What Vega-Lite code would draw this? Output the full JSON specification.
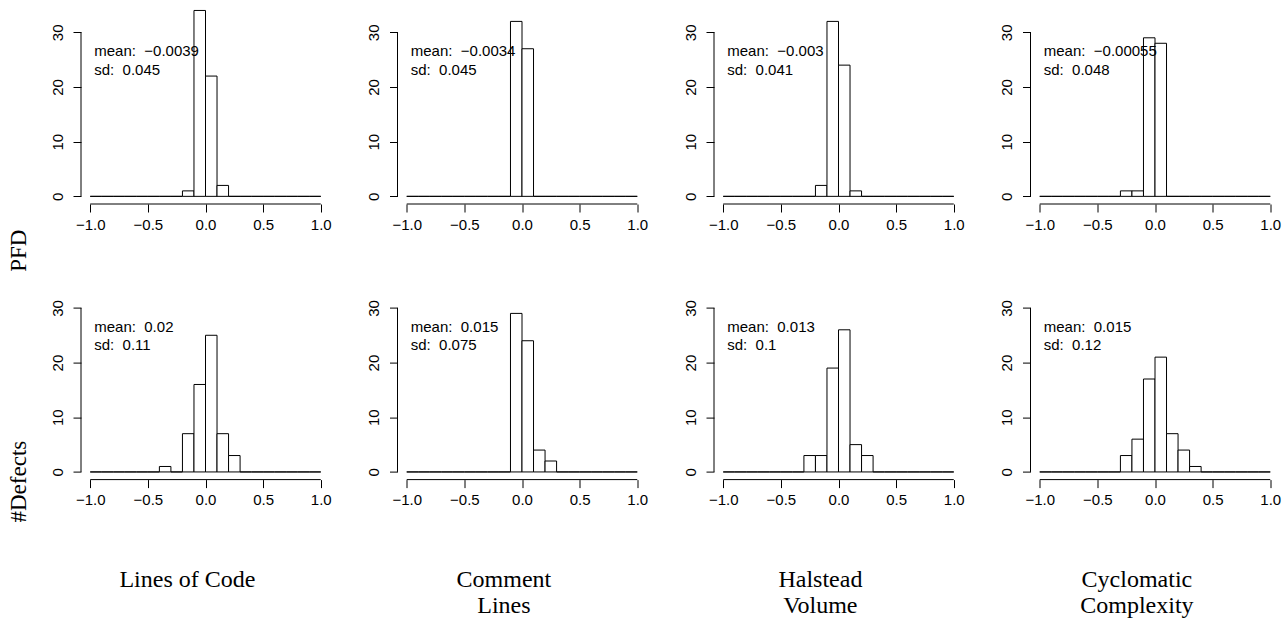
{
"$schema": "https://vega.github.io/schema/vega-lite/v6.json",
"background": "white",
"padding": {"left": 7, "top": 5, "right": 5, "bottom": 5},
"data": {"values": [
{"k":"b","t":"PFD","m":"Lines of Code","lo":-1,"hi":-0.9,"n":0},
{"k":"b","t":"PFD","m":"Lines of Code","lo":-0.9,"hi":-0.8,"n":0},
{"k":"b","t":"PFD","m":"Lines of Code","lo":-0.8,"hi":-0.7,"n":0},
{"k":"b","t":"PFD","m":"Lines of Code","lo":-0.7,"hi":-0.6,"n":0},
{"k":"b","t":"PFD","m":"Lines of Code","lo":-0.6,"hi":-0.5,"n":0},
{"k":"b","t":"PFD","m":"Lines of Code","lo":-0.5,"hi":-0.4,"n":0},
{"k":"b","t":"PFD","m":"Lines of Code","lo":-0.4,"hi":-0.3,"n":0},
{"k":"b","t":"PFD","m":"Lines of Code","lo":-0.3,"hi":-0.2,"n":0},
{"k":"b","t":"PFD","m":"Lines of Code","lo":-0.2,"hi":-0.1,"n":1},
{"k":"b","t":"PFD","m":"Lines of Code","lo":-0.1,"hi":0,"n":34},
{"k":"b","t":"PFD","m":"Lines of Code","lo":0,"hi":0.1,"n":22},
{"k":"b","t":"PFD","m":"Lines of Code","lo":0.1,"hi":0.2,"n":2},
{"k":"b","t":"PFD","m":"Lines of Code","lo":0.2,"hi":0.3,"n":0},
{"k":"b","t":"PFD","m":"Lines of Code","lo":0.3,"hi":0.4,"n":0},
{"k":"b","t":"PFD","m":"Lines of Code","lo":0.4,"hi":0.5,"n":0},
{"k":"b","t":"PFD","m":"Lines of Code","lo":0.5,"hi":0.6,"n":0},
{"k":"b","t":"PFD","m":"Lines of Code","lo":0.6,"hi":0.7,"n":0},
{"k":"b","t":"PFD","m":"Lines of Code","lo":0.7,"hi":0.8,"n":0},
{"k":"b","t":"PFD","m":"Lines of Code","lo":0.8,"hi":0.9,"n":0},
{"k":"b","t":"PFD","m":"Lines of Code","lo":0.9,"hi":1,"n":0},
{"k":"b","t":"PFD","m":"Comment Lines","lo":-1,"hi":-0.9,"n":0},
{"k":"b","t":"PFD","m":"Comment Lines","lo":-0.9,"hi":-0.8,"n":0},
{"k":"b","t":"PFD","m":"Comment Lines","lo":-0.8,"hi":-0.7,"n":0},
{"k":"b","t":"PFD","m":"Comment Lines","lo":-0.7,"hi":-0.6,"n":0},
{"k":"b","t":"PFD","m":"Comment Lines","lo":-0.6,"hi":-0.5,"n":0},
{"k":"b","t":"PFD","m":"Comment Lines","lo":-0.5,"hi":-0.4,"n":0},
{"k":"b","t":"PFD","m":"Comment Lines","lo":-0.4,"hi":-0.3,"n":0},
{"k":"b","t":"PFD","m":"Comment Lines","lo":-0.3,"hi":-0.2,"n":0},
{"k":"b","t":"PFD","m":"Comment Lines","lo":-0.2,"hi":-0.1,"n":0},
{"k":"b","t":"PFD","m":"Comment Lines","lo":-0.1,"hi":0,"n":32},
{"k":"b","t":"PFD","m":"Comment Lines","lo":0,"hi":0.1,"n":27},
{"k":"b","t":"PFD","m":"Comment Lines","lo":0.1,"hi":0.2,"n":0},
{"k":"b","t":"PFD","m":"Comment Lines","lo":0.2,"hi":0.3,"n":0},
{"k":"b","t":"PFD","m":"Comment Lines","lo":0.3,"hi":0.4,"n":0},
{"k":"b","t":"PFD","m":"Comment Lines","lo":0.4,"hi":0.5,"n":0},
{"k":"b","t":"PFD","m":"Comment Lines","lo":0.5,"hi":0.6,"n":0},
{"k":"b","t":"PFD","m":"Comment Lines","lo":0.6,"hi":0.7,"n":0},
{"k":"b","t":"PFD","m":"Comment Lines","lo":0.7,"hi":0.8,"n":0},
{"k":"b","t":"PFD","m":"Comment Lines","lo":0.8,"hi":0.9,"n":0},
{"k":"b","t":"PFD","m":"Comment Lines","lo":0.9,"hi":1,"n":0},
{"k":"b","t":"PFD","m":"Halstead Volume","lo":-1,"hi":-0.9,"n":0},
{"k":"b","t":"PFD","m":"Halstead Volume","lo":-0.9,"hi":-0.8,"n":0},
{"k":"b","t":"PFD","m":"Halstead Volume","lo":-0.8,"hi":-0.7,"n":0},
{"k":"b","t":"PFD","m":"Halstead Volume","lo":-0.7,"hi":-0.6,"n":0},
{"k":"b","t":"PFD","m":"Halstead Volume","lo":-0.6,"hi":-0.5,"n":0},
{"k":"b","t":"PFD","m":"Halstead Volume","lo":-0.5,"hi":-0.4,"n":0},
{"k":"b","t":"PFD","m":"Halstead Volume","lo":-0.4,"hi":-0.3,"n":0},
{"k":"b","t":"PFD","m":"Halstead Volume","lo":-0.3,"hi":-0.2,"n":0},
{"k":"b","t":"PFD","m":"Halstead Volume","lo":-0.2,"hi":-0.1,"n":2},
{"k":"b","t":"PFD","m":"Halstead Volume","lo":-0.1,"hi":0,"n":32},
{"k":"b","t":"PFD","m":"Halstead Volume","lo":0,"hi":0.1,"n":24},
{"k":"b","t":"PFD","m":"Halstead Volume","lo":0.1,"hi":0.2,"n":1},
{"k":"b","t":"PFD","m":"Halstead Volume","lo":0.2,"hi":0.3,"n":0},
{"k":"b","t":"PFD","m":"Halstead Volume","lo":0.3,"hi":0.4,"n":0},
{"k":"b","t":"PFD","m":"Halstead Volume","lo":0.4,"hi":0.5,"n":0},
{"k":"b","t":"PFD","m":"Halstead Volume","lo":0.5,"hi":0.6,"n":0},
{"k":"b","t":"PFD","m":"Halstead Volume","lo":0.6,"hi":0.7,"n":0},
{"k":"b","t":"PFD","m":"Halstead Volume","lo":0.7,"hi":0.8,"n":0},
{"k":"b","t":"PFD","m":"Halstead Volume","lo":0.8,"hi":0.9,"n":0},
{"k":"b","t":"PFD","m":"Halstead Volume","lo":0.9,"hi":1,"n":0},
{"k":"b","t":"PFD","m":"Cyclomatic Complexity","lo":-1,"hi":-0.9,"n":0},
{"k":"b","t":"PFD","m":"Cyclomatic Complexity","lo":-0.9,"hi":-0.8,"n":0},
{"k":"b","t":"PFD","m":"Cyclomatic Complexity","lo":-0.8,"hi":-0.7,"n":0},
{"k":"b","t":"PFD","m":"Cyclomatic Complexity","lo":-0.7,"hi":-0.6,"n":0},
{"k":"b","t":"PFD","m":"Cyclomatic Complexity","lo":-0.6,"hi":-0.5,"n":0},
{"k":"b","t":"PFD","m":"Cyclomatic Complexity","lo":-0.5,"hi":-0.4,"n":0},
{"k":"b","t":"PFD","m":"Cyclomatic Complexity","lo":-0.4,"hi":-0.3,"n":0},
{"k":"b","t":"PFD","m":"Cyclomatic Complexity","lo":-0.3,"hi":-0.2,"n":1},
{"k":"b","t":"PFD","m":"Cyclomatic Complexity","lo":-0.2,"hi":-0.1,"n":1},
{"k":"b","t":"PFD","m":"Cyclomatic Complexity","lo":-0.1,"hi":0,"n":29},
{"k":"b","t":"PFD","m":"Cyclomatic Complexity","lo":0,"hi":0.1,"n":28},
{"k":"b","t":"PFD","m":"Cyclomatic Complexity","lo":0.1,"hi":0.2,"n":0},
{"k":"b","t":"PFD","m":"Cyclomatic Complexity","lo":0.2,"hi":0.3,"n":0},
{"k":"b","t":"PFD","m":"Cyclomatic Complexity","lo":0.3,"hi":0.4,"n":0},
{"k":"b","t":"PFD","m":"Cyclomatic Complexity","lo":0.4,"hi":0.5,"n":0},
{"k":"b","t":"PFD","m":"Cyclomatic Complexity","lo":0.5,"hi":0.6,"n":0},
{"k":"b","t":"PFD","m":"Cyclomatic Complexity","lo":0.6,"hi":0.7,"n":0},
{"k":"b","t":"PFD","m":"Cyclomatic Complexity","lo":0.7,"hi":0.8,"n":0},
{"k":"b","t":"PFD","m":"Cyclomatic Complexity","lo":0.8,"hi":0.9,"n":0},
{"k":"b","t":"PFD","m":"Cyclomatic Complexity","lo":0.9,"hi":1,"n":0},
{"k":"b","t":"#Defects","m":"Lines of Code","lo":-1,"hi":-0.9,"n":0},
{"k":"b","t":"#Defects","m":"Lines of Code","lo":-0.9,"hi":-0.8,"n":0},
{"k":"b","t":"#Defects","m":"Lines of Code","lo":-0.8,"hi":-0.7,"n":0},
{"k":"b","t":"#Defects","m":"Lines of Code","lo":-0.7,"hi":-0.6,"n":0},
{"k":"b","t":"#Defects","m":"Lines of Code","lo":-0.6,"hi":-0.5,"n":0},
{"k":"b","t":"#Defects","m":"Lines of Code","lo":-0.5,"hi":-0.4,"n":0},
{"k":"b","t":"#Defects","m":"Lines of Code","lo":-0.4,"hi":-0.3,"n":1},
{"k":"b","t":"#Defects","m":"Lines of Code","lo":-0.3,"hi":-0.2,"n":0},
{"k":"b","t":"#Defects","m":"Lines of Code","lo":-0.2,"hi":-0.1,"n":7},
{"k":"b","t":"#Defects","m":"Lines of Code","lo":-0.1,"hi":0,"n":16},
{"k":"b","t":"#Defects","m":"Lines of Code","lo":0,"hi":0.1,"n":25},
{"k":"b","t":"#Defects","m":"Lines of Code","lo":0.1,"hi":0.2,"n":7},
{"k":"b","t":"#Defects","m":"Lines of Code","lo":0.2,"hi":0.3,"n":3},
{"k":"b","t":"#Defects","m":"Lines of Code","lo":0.3,"hi":0.4,"n":0},
{"k":"b","t":"#Defects","m":"Lines of Code","lo":0.4,"hi":0.5,"n":0},
{"k":"b","t":"#Defects","m":"Lines of Code","lo":0.5,"hi":0.6,"n":0},
{"k":"b","t":"#Defects","m":"Lines of Code","lo":0.6,"hi":0.7,"n":0},
{"k":"b","t":"#Defects","m":"Lines of Code","lo":0.7,"hi":0.8,"n":0},
{"k":"b","t":"#Defects","m":"Lines of Code","lo":0.8,"hi":0.9,"n":0},
{"k":"b","t":"#Defects","m":"Lines of Code","lo":0.9,"hi":1,"n":0},
{"k":"b","t":"#Defects","m":"Comment Lines","lo":-1,"hi":-0.9,"n":0},
{"k":"b","t":"#Defects","m":"Comment Lines","lo":-0.9,"hi":-0.8,"n":0},
{"k":"b","t":"#Defects","m":"Comment Lines","lo":-0.8,"hi":-0.7,"n":0},
{"k":"b","t":"#Defects","m":"Comment Lines","lo":-0.7,"hi":-0.6,"n":0},
{"k":"b","t":"#Defects","m":"Comment Lines","lo":-0.6,"hi":-0.5,"n":0},
{"k":"b","t":"#Defects","m":"Comment Lines","lo":-0.5,"hi":-0.4,"n":0},
{"k":"b","t":"#Defects","m":"Comment Lines","lo":-0.4,"hi":-0.3,"n":0},
{"k":"b","t":"#Defects","m":"Comment Lines","lo":-0.3,"hi":-0.2,"n":0},
{"k":"b","t":"#Defects","m":"Comment Lines","lo":-0.2,"hi":-0.1,"n":0},
{"k":"b","t":"#Defects","m":"Comment Lines","lo":-0.1,"hi":0,"n":29},
{"k":"b","t":"#Defects","m":"Comment Lines","lo":0,"hi":0.1,"n":24},
{"k":"b","t":"#Defects","m":"Comment Lines","lo":0.1,"hi":0.2,"n":4},
{"k":"b","t":"#Defects","m":"Comment Lines","lo":0.2,"hi":0.3,"n":2},
{"k":"b","t":"#Defects","m":"Comment Lines","lo":0.3,"hi":0.4,"n":0},
{"k":"b","t":"#Defects","m":"Comment Lines","lo":0.4,"hi":0.5,"n":0},
{"k":"b","t":"#Defects","m":"Comment Lines","lo":0.5,"hi":0.6,"n":0},
{"k":"b","t":"#Defects","m":"Comment Lines","lo":0.6,"hi":0.7,"n":0},
{"k":"b","t":"#Defects","m":"Comment Lines","lo":0.7,"hi":0.8,"n":0},
{"k":"b","t":"#Defects","m":"Comment Lines","lo":0.8,"hi":0.9,"n":0},
{"k":"b","t":"#Defects","m":"Comment Lines","lo":0.9,"hi":1,"n":0},
{"k":"b","t":"#Defects","m":"Halstead Volume","lo":-1,"hi":-0.9,"n":0},
{"k":"b","t":"#Defects","m":"Halstead Volume","lo":-0.9,"hi":-0.8,"n":0},
{"k":"b","t":"#Defects","m":"Halstead Volume","lo":-0.8,"hi":-0.7,"n":0},
{"k":"b","t":"#Defects","m":"Halstead Volume","lo":-0.7,"hi":-0.6,"n":0},
{"k":"b","t":"#Defects","m":"Halstead Volume","lo":-0.6,"hi":-0.5,"n":0},
{"k":"b","t":"#Defects","m":"Halstead Volume","lo":-0.5,"hi":-0.4,"n":0},
{"k":"b","t":"#Defects","m":"Halstead Volume","lo":-0.4,"hi":-0.3,"n":0},
{"k":"b","t":"#Defects","m":"Halstead Volume","lo":-0.3,"hi":-0.2,"n":3},
{"k":"b","t":"#Defects","m":"Halstead Volume","lo":-0.2,"hi":-0.1,"n":3},
{"k":"b","t":"#Defects","m":"Halstead Volume","lo":-0.1,"hi":0,"n":19},
{"k":"b","t":"#Defects","m":"Halstead Volume","lo":0,"hi":0.1,"n":26},
{"k":"b","t":"#Defects","m":"Halstead Volume","lo":0.1,"hi":0.2,"n":5},
{"k":"b","t":"#Defects","m":"Halstead Volume","lo":0.2,"hi":0.3,"n":3},
{"k":"b","t":"#Defects","m":"Halstead Volume","lo":0.3,"hi":0.4,"n":0},
{"k":"b","t":"#Defects","m":"Halstead Volume","lo":0.4,"hi":0.5,"n":0},
{"k":"b","t":"#Defects","m":"Halstead Volume","lo":0.5,"hi":0.6,"n":0},
{"k":"b","t":"#Defects","m":"Halstead Volume","lo":0.6,"hi":0.7,"n":0},
{"k":"b","t":"#Defects","m":"Halstead Volume","lo":0.7,"hi":0.8,"n":0},
{"k":"b","t":"#Defects","m":"Halstead Volume","lo":0.8,"hi":0.9,"n":0},
{"k":"b","t":"#Defects","m":"Halstead Volume","lo":0.9,"hi":1,"n":0},
{"k":"b","t":"#Defects","m":"Cyclomatic Complexity","lo":-1,"hi":-0.9,"n":0},
{"k":"b","t":"#Defects","m":"Cyclomatic Complexity","lo":-0.9,"hi":-0.8,"n":0},
{"k":"b","t":"#Defects","m":"Cyclomatic Complexity","lo":-0.8,"hi":-0.7,"n":0},
{"k":"b","t":"#Defects","m":"Cyclomatic Complexity","lo":-0.7,"hi":-0.6,"n":0},
{"k":"b","t":"#Defects","m":"Cyclomatic Complexity","lo":-0.6,"hi":-0.5,"n":0},
{"k":"b","t":"#Defects","m":"Cyclomatic Complexity","lo":-0.5,"hi":-0.4,"n":0},
{"k":"b","t":"#Defects","m":"Cyclomatic Complexity","lo":-0.4,"hi":-0.3,"n":0},
{"k":"b","t":"#Defects","m":"Cyclomatic Complexity","lo":-0.3,"hi":-0.2,"n":3},
{"k":"b","t":"#Defects","m":"Cyclomatic Complexity","lo":-0.2,"hi":-0.1,"n":6},
{"k":"b","t":"#Defects","m":"Cyclomatic Complexity","lo":-0.1,"hi":0,"n":17},
{"k":"b","t":"#Defects","m":"Cyclomatic Complexity","lo":0,"hi":0.1,"n":21},
{"k":"b","t":"#Defects","m":"Cyclomatic Complexity","lo":0.1,"hi":0.2,"n":7},
{"k":"b","t":"#Defects","m":"Cyclomatic Complexity","lo":0.2,"hi":0.3,"n":4},
{"k":"b","t":"#Defects","m":"Cyclomatic Complexity","lo":0.3,"hi":0.4,"n":1},
{"k":"b","t":"#Defects","m":"Cyclomatic Complexity","lo":0.4,"hi":0.5,"n":0},
{"k":"b","t":"#Defects","m":"Cyclomatic Complexity","lo":0.5,"hi":0.6,"n":0},
{"k":"b","t":"#Defects","m":"Cyclomatic Complexity","lo":0.6,"hi":0.7,"n":0},
{"k":"b","t":"#Defects","m":"Cyclomatic Complexity","lo":0.7,"hi":0.8,"n":0},
{"k":"b","t":"#Defects","m":"Cyclomatic Complexity","lo":0.8,"hi":0.9,"n":0},
{"k":"b","t":"#Defects","m":"Cyclomatic Complexity","lo":0.9,"hi":1,"n":0},
{"k":"s","t":"PFD","m":"Lines of Code","mean":"mean:\u00a0 \u22120.0039","sd":"sd:\u00a0 0.045"},
{"k":"s","t":"PFD","m":"Comment Lines","mean":"mean:\u00a0 \u22120.0034","sd":"sd:\u00a0 0.045"},
{"k":"s","t":"PFD","m":"Halstead Volume","mean":"mean:\u00a0 \u22120.003","sd":"sd:\u00a0 0.041"},
{"k":"s","t":"PFD","m":"Cyclomatic Complexity","mean":"mean:\u00a0 \u22120.00055","sd":"sd:\u00a0 0.048"},
{"k":"s","t":"#Defects","m":"Lines of Code","mean":"mean:\u00a0 0.02","sd":"sd:\u00a0 0.11","lab":"Lines of Code"},
{"k":"s","t":"#Defects","m":"Comment Lines","mean":"mean:\u00a0 0.015","sd":"sd:\u00a0 0.075","lab":"Comment\nLines"},
{"k":"s","t":"#Defects","m":"Halstead Volume","mean":"mean:\u00a0 0.013","sd":"sd:\u00a0 0.1","lab":"Halstead\nVolume"},
{"k":"s","t":"#Defects","m":"Cyclomatic Complexity","mean":"mean:\u00a0 0.015","sd":"sd:\u00a0 0.12","lab":"Cyclomatic\nComplexity"}
]},
"facet": {
  "row": {"field": "t", "type": "nominal", "sort": ["PFD", "#Defects"], "header": null},
  "column": {"field": "m", "type": "nominal", "sort": ["Lines of Code", "Comment Lines", "Halstead Volume", "Cyclomatic Complexity"], "header": null}
},
"spacing": {"row": 76.6, "column": 67.5},
"bounds": "flush",
"resolve": {"axis": {"x": "independent", "y": "independent"}},
"spec": {
  "width": 249,
  "height": 199,
  "layer": [
    {
      "transform": [{"filter": "datum.k == 'b'"}],
      "mark": {"type": "rect", "fill": "white", "stroke": "black", "strokeWidth": 1},
      "encoding": {
        "x": {"field": "lo", "type": "quantitative",
              "scale": {"domain": [-1.08, 1.08], "nice": false, "zero": false},
              "axis": {"title": null, "values": [-1, -0.5, 0, 0.5, 1], "format": ".1f", "domain": false, "grid": false,
                       "tickSize": 8, "tickColor": "black", "tickWidth": 1, "labelColor": "black",
                       "labelFont": "Liberation Sans", "labelFontSize": 15, "labelPadding": 5,
                       "labelFlush": false, "labelOverlap": false}},
        "x2": {"field": "hi"},
        "y": {"field": "n", "type": "quantitative",
              "scale": {"domain": [-1.4, 35], "nice": false, "zero": false},
              "axis": {"title": null, "values": [0, 5, 10, 15, 20, 25, 30],
                       "labelExpr": "datum.value == 15 || datum.value == 25 ? '' : datum.label",
                       "labelAngle": 270, "labelAlign": "center", "labelBaseline": "bottom",
                       "domain": false, "grid": false,
                       "tickSize": 8, "tickColor": "black", "tickWidth": 1, "labelColor": "black",
                       "labelFont": "Liberation Sans", "labelFontSize": 15, "labelPadding": 8,
                       "labelFlush": false, "labelOverlap": false}},
        "y2": {"datum": 0}
      }
    },
    {
      "transform": [{"filter": "datum.k == 's'"}],
      "mark": {"type": "rule", "color": "black", "strokeWidth": 1},
      "encoding": {"x": {"datum": -1.08}, "y": {"datum": 0}, "y2": {"datum": 30}}
    },
    {
      "transform": [{"filter": "datum.k == 's'"}],
      "mark": {"type": "rule", "color": "black", "strokeWidth": 1},
      "encoding": {"x": {"datum": -1}, "x2": {"datum": 1}, "y": {"datum": -1.4}}
    },
    {
      "transform": [{"filter": "datum.k == 's'"}],
      "mark": {"type": "text", "align": "left", "baseline": "middle", "font": "Liberation Sans", "fontSize": 15, "color": "black"},
      "encoding": {"x": {"datum": -0.965}, "y": {"datum": 26.5}, "text": {"field": "mean"}}
    },
    {
      "transform": [{"filter": "datum.k == 's'"}],
      "mark": {"type": "text", "align": "left", "baseline": "middle", "font": "Liberation Sans", "fontSize": 15, "color": "black"},
      "encoding": {"x": {"datum": -0.965}, "y": {"datum": 23.2}, "text": {"field": "sd"}}
    },
    {
      "transform": [{"filter": "datum.k == 's' && datum.t == 'PFD' && datum.m == 'Lines of Code'"}],
      "mark": {"type": "text", "angle": 270, "align": "center", "baseline": "middle", "font": "Liberation Serif", "fontSize": 23, "color": "black"},
      "encoding": {"x": {"datum": -1.6185}, "y": {"datum": -9.93}, "text": {"field": "t"}}
    },
    {
      "transform": [{"filter": "datum.k == 's' && datum.t == '#Defects' && datum.m == 'Lines of Code'"}],
      "mark": {"type": "text", "angle": 270, "align": "center", "baseline": "middle", "font": "Liberation Serif", "fontSize": 23, "color": "black"},
      "encoding": {"x": {"datum": -1.6185}, "y": {"datum": -1.77}, "text": {"field": "t"}}
    },
    {
      "transform": [{"filter": "datum.k == 's' && datum.t == '#Defects'"}],
      "mark": {"type": "text", "align": "center", "baseline": "alphabetic", "lineBreak": "\n", "lineHeight": 26, "font": "Liberation Serif", "fontSize": 24, "color": "black"},
      "encoding": {"x": {"datum": -0.157}, "y": {"datum": -21.1}, "text": {"field": "lab"}}
    }
  ]
},
"config": {"view": {"stroke": null}}
}
